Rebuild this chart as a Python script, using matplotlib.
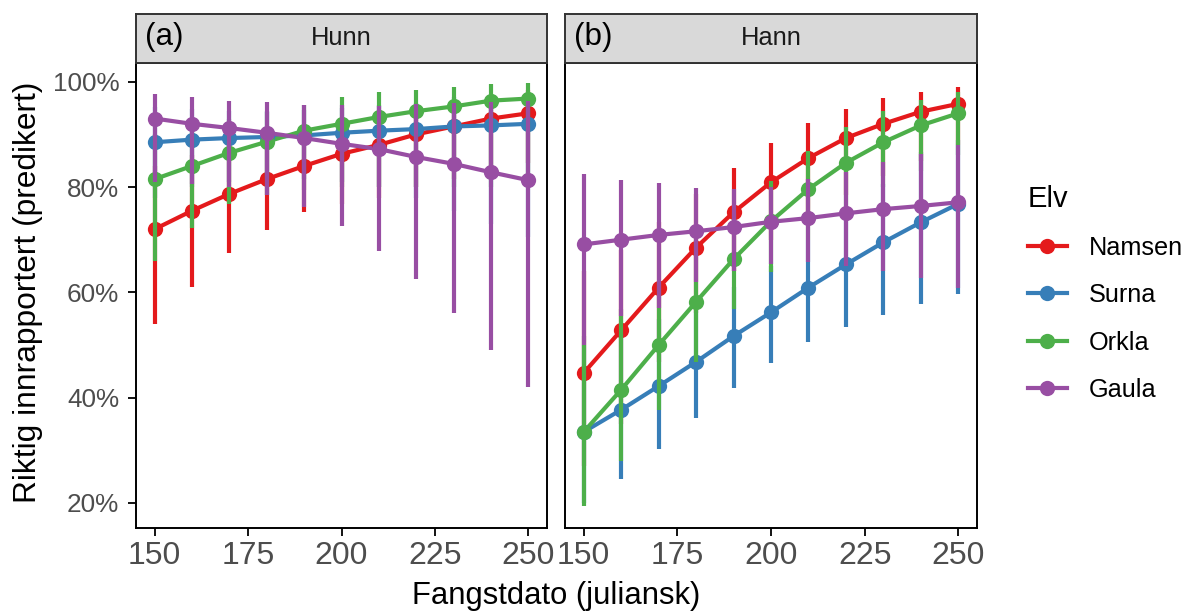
import matplotlib.pyplot as plt
import numpy as np
from matplotlib.lines import Line2D
from matplotlib.ticker import FuncFormatter

plt.rcParams['font.family'] = ['Liberation Sans', 'DejaVu Sans']

# Fangstdato (julian day)
days = [150, 160, 170, 180, 190, 200, 210, 220, 230, 240, 250]
rivers = ['Namsen', 'Surna', 'Orkla', 'Gaula']
colors = ['#E41A1C', '#377EB8', '#4DAF4A', '#984EA3']

# Hunn (a): predicted % with lower / upper limits
hunn_fit = {
    'Namsen': [72.0, 75.5, 78.7, 81.5, 84.0, 86.3, 88.0, 90.0, 91.5, 93.0, 94.0],
    'Surna': [88.5, 89.0, 89.3, 89.5, 89.8, 90.3, 90.7, 91.0, 91.5, 91.7, 92.0],
    'Orkla': [81.5, 84.0, 86.5, 88.6, 90.7, 92.0, 93.3, 94.4, 95.3, 96.4, 96.8],
    'Gaula': [93.0, 92.0, 91.2, 90.3, 89.3, 88.2, 87.2, 85.7, 84.4, 82.8, 81.3],
}
hunn_lo = {
    'Namsen': [54.0, 61.0, 67.4, 71.8, 75.2, 76.8, 78.0, 80.0, 81.5, 83.0, 84.5],
    'Surna': [78.0, 80.0, 81.0, 81.5, 81.5, 81.0, 80.0, 78.0, 75.5, 73.0, 70.5],
    'Orkla': [66.0, 72.3, 76.8, 78.5, 79.5, 80.0, 80.0, 80.0, 80.0, 80.0, 80.0],
    'Gaula': [81.0, 80.6, 80.0, 78.5, 76.2, 72.6, 67.9, 62.5, 56.0, 49.1, 42.1],
}
hunn_hi = {
    'Namsen': [84.0, 86.0, 88.0, 90.0, 91.5, 93.0, 94.5, 95.5, 96.5, 97.5, 98.5],
    'Surna': [95.2, 94.8, 94.5, 94.5, 94.6, 95.0, 95.5, 96.0, 97.0, 97.5, 98.0],
    'Orkla': [90.0, 91.5, 93.0, 94.3, 95.5, 97.0, 98.0, 98.5, 99.0, 99.5, 99.8],
    'Gaula': [97.7, 97.1, 96.4, 96.2, 95.6, 95.5, 95.4, 95.7, 96.0, 96.2, 96.4],
}

# Hann (b)
hann_fit = {
    'Namsen': [44.7, 52.8, 60.9, 68.5, 75.2, 80.9, 85.5, 89.3, 92.0, 94.3, 95.8],
    'Surna': [33.5, 37.7, 42.2, 46.8, 51.7, 56.2, 60.9, 65.3, 69.5, 73.3, 76.8],
    'Orkla': [33.5, 41.5, 50.0, 58.2, 66.3, 73.5, 79.6, 84.6, 88.5, 91.7, 94.0],
    'Gaula': [69.1, 70.0, 70.9, 71.6, 72.4, 73.4, 74.1, 75.0, 75.8, 76.4, 77.1],
}
hann_lo = {
    'Namsen': [27.0, 35.0, 46.7, 56.0, 64.0, 70.0, 75.0, 78.5, 82.0, 85.0, 88.0],
    'Surna': [20.0, 24.6, 30.3, 36.1, 41.8, 46.6, 50.5, 53.5, 55.7, 57.7, 59.6],
    'Orkla': [19.4, 27.9, 37.6, 46.7, 56.8, 63.8, 70.0, 76.0, 80.0, 83.0, 86.0],
    'Gaula': [50.0, 55.5, 57.0, 61.9, 64.0, 65.3, 65.7, 65.0, 64.0, 62.7, 60.9],
}
hann_hi = {
    'Namsen': [64.0, 68.0, 73.3, 78.7, 83.6, 88.4, 92.1, 94.9, 96.9, 98.0, 98.9],
    'Surna': [50.0, 52.0, 55.0, 58.0, 61.0, 65.0, 70.0, 75.5, 80.5, 86.7, 89.0],
    'Orkla': [51.7, 56.8, 62.0, 70.0, 75.0, 81.2, 86.9, 91.4, 94.5, 96.6, 98.0],
    'Gaula': [82.5, 81.4, 80.7, 79.9, 79.7, 80.0, 81.5, 82.9, 84.8, 86.3, 88.0],
}

W, H = 1184, 613
fig = plt.figure(figsize=(W / 100, H / 100), dpi=100)


def px_rect(x0, y0, x1, y1):
    return [x0 / W, 1 - y1 / H, (x1 - x0) / W, (y1 - y0) / H]


def draw_panel(x0, x1, fit, lo, hi, tag, title, show_y):
    ax = fig.add_axes(px_rect(x0, 63, x1, 528))
    for r, c in zip(rivers, colors):
        ax.plot(days, fit[r], color=c, lw=3, zorder=2)
    for i, (r, c) in enumerate(zip(rivers, colors)):
        ax.vlines(days, lo[r], hi[r], color=c, lw=3, zorder=3 + i)
        ax.plot(days, fit[r], 'o', color=c, ms=11, mec='none', zorder=3 + i)
    ax.set_xlim(145, 255)
    ax.set_ylim(15.25, 103.55)
    ax.set_xticks([150, 175, 200, 225, 250])
    ax.set_yticks([20, 40, 60, 80, 100])
    ax.yaxis.set_major_formatter(FuncFormatter(lambda v, p: '%d%%' % v))
    ax.tick_params(axis='x', labelsize=23, labelcolor='#4D4D4D', length=6, width=1.3, pad=3)
    ax.tick_params(axis='y', labelsize=18.8, labelcolor='#4D4D4D', length=6, width=1.3, pad=6)
    if not show_y:
        ax.tick_params(axis='y', left=False, labelleft=False)
    for s in ax.spines.values():
        s.set_linewidth(1.4)
        s.set_color('black')

    # strip
    st = fig.add_axes(px_rect(x0, 13.5, x1, 63))
    st.set_facecolor('#D9D9D9')
    st.set_xticks([])
    st.set_yticks([])
    for s in st.spines.values():
        s.set_linewidth(1.4)
        s.set_color('#333333')
    st.text(0.5, 0.5, title, ha='center', va='center', fontsize=18.4, color='#1A1A1A',
            transform=st.transAxes)
    st.text(9 / (x1 - x0), 0.52, tag, ha='left', va='center', fontsize=22.6, color='black',
            transform=st.transAxes)
    return ax


ax_a = draw_panel(136, 547, hunn_fit, hunn_lo, hunn_hi, '(a)', 'Hunn', True)
ax_b = draw_panel(565, 977, hann_fit, hann_lo, hann_hi, '(b)', 'Hann', False)

fig.text(556 / W, 1 - 596 / H, 'Fangstdato (juliansk)', ha='center', va='center', fontsize=22.3)
fig.text(28 / W, 1 - 292 / H, 'Riktig innrapportert (predikert)', ha='center', va='center',
         rotation=90, fontsize=22.9)

handles = [Line2D([0], [0], color=c, lw=3, marker='o', ms=11, mec='none') for c in colors]
leg = fig.legend(handles, rivers, title='Elv', loc='upper left',
                 bbox_to_anchor=(1005 / W, 1 - 162 / H), frameon=False,
                 fontsize=18.2, title_fontsize=21, alignment='left',
                 handlelength=1.55, handletextpad=0.85, labelspacing=0.92)

fig.savefig('out.png', dpi=100)
